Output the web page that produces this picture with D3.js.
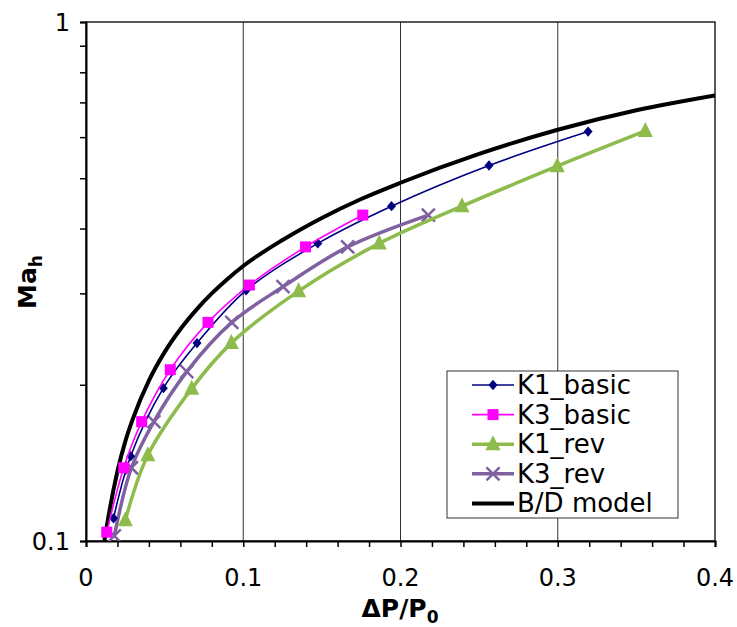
<!DOCTYPE html>
<html><head><meta charset="utf-8">
<script src="https://cdn.jsdelivr.net/npm/d3@7"></script>
<style>body{margin:0;background:#fff}svg{display:block}</style>
</head><body>
<svg id="c" width="737" height="627"></svg>
<script>
// ---- data ----
const k1BasicX = [0.0175, 0.0284, 0.0492, 0.0706, 0.1018, 0.1474, 0.1943, 0.2563, 0.3193];
const k1BasicY = [0.1106, 0.1457, 0.197, 0.2406, 0.304, 0.3745, 0.4417, 0.529, 0.615];
const k3BasicX = [0.0132, 0.0240, 0.0354, 0.0536, 0.0776, 0.1039, 0.1396, 0.176];
const k3BasicY = [0.104, 0.1384, 0.1698, 0.2138, 0.2638, 0.3113, 0.3687, 0.4246];
const k1RevX = [0.0250, 0.0393, 0.0672, 0.0924, 0.1352, 0.1865, 0.2391, 0.2997, 0.3557];
const k1RevY = [0.1096, 0.1463, 0.1966, 0.2406, 0.303, 0.3745, 0.4417, 0.5275, 0.6166];
const k3RevX = [0.0180, 0.0289, 0.0432, 0.0641, 0.0927, 0.1253, 0.1664, 0.2177];
const k3RevY = [0.1023, 0.1384, 0.1698, 0.212, 0.2638, 0.309, 0.3687, 0.4246];
const bdX = [0.0117, 0.015, 0.02, 0.025, 0.03, 0.04, 0.05, 0.06, 0.07, 0.08, 0.09, 0.1, 0.125, 0.15, 0.175, 0.2, 0.25, 0.3, 0.35, 0.4];
const bdY = [0.100, 0.1147, 0.1363, 0.1556, 0.1726, 0.2037, 0.2312, 0.2559, 0.2786, 0.2999, 0.3199, 0.3388, 0.3802, 0.4193, 0.4560, 0.4901, 0.557, 0.620, 0.676, 0.722];
const xTickLabels = [0, 0.1, 0.2, 0.3, 0.4];
const xMinorTicks = d3.range(0, 0.4001, 0.02);
const yTickLabels = [0.1, 1];
const yMinorTicks = [0.1,0.2,0.3,0.4,0.5,0.6,0.7,0.8,0.9,1];
const seriesNames = ["K1_basic", "K3_basic", "K1_rev", "K3_rev", "B/D model"];

// ---- layout ----
const L = 86, R = 715, T = 22, B = 541;
const svg = d3.select("#c");
const x = d3.scaleLinear().domain([0, 0.4]).range([L, R]);
const y = d3.scaleLog().domain([0.1, 1]).range([B, T]);
const font = "'DejaVu Sans', Verdana, sans-serif";

svg.append("defs").append("clipPath").attr("id","clip")
  .append("rect").attr("x",L).attr("y",T).attr("width",R-L).attr("height",B-T);

// gridlines
svg.append("g").selectAll("line").data([0.1,0.2,0.3]).join("line")
  .attr("x1",d=>x(d)).attr("x2",d=>x(d)).attr("y1",T).attr("y2",B)
  .attr("stroke","#333").attr("stroke-width",1);

// frame
svg.append("rect").attr("x",L).attr("y",T).attr("width",R-L).attr("height",B-T)
  .attr("fill","none").attr("stroke","#222").attr("stroke-width",1.5);

// x axis
const xAxis = d3.axisBottom(x).tickValues(xMinorTicks).tickSize(6).tickFormat("");
svg.append("g").attr("transform",`translate(0,${B})`).call(xAxis)
  .call(g=>{g.select(".domain").attr("stroke","#000").attr("stroke-width",2);
            g.selectAll(".tick line").attr("stroke","#000").attr("stroke-width",1.5);});
svg.append("g").selectAll("text").data(xTickLabels).join("text")
  .attr("x",d=>x(d)).attr("y",586).attr("text-anchor","middle")
  .attr("font-family",font).attr("font-size",24).attr("fill","#000")
  .text(d=>d3.format("")(d));

// y axis
const yAxis = d3.axisLeft(y).tickValues(yMinorTicks).tickSize(6).tickFormat("");
svg.append("g").attr("transform",`translate(${L},0)`).call(yAxis)
  .call(g=>{g.select(".domain").attr("stroke","#000").attr("stroke-width",2);
            g.selectAll(".tick line").attr("stroke","#000").attr("stroke-width",1.5);});
svg.append("g").selectAll("text").data(yTickLabels).join("text")
  .attr("x",70).attr("y",d=>y(d)+9).attr("text-anchor","end")
  .attr("font-family",font).attr("font-size",24).attr("fill","#000")
  .text(d=>String(d));

// axis titles
const xt = svg.append("text").attr("x",400).attr("y",617).attr("text-anchor","middle")
  .attr("font-family",font).attr("font-size",25).attr("font-weight","bold");
xt.append("tspan").text("\u0394P/P");
xt.append("tspan").attr("font-size",17).attr("dy",6).text("0");
const yt = svg.append("text").attr("transform","translate(36,282) rotate(-90)")
  .attr("text-anchor","middle").attr("font-family",font).attr("font-size",25).attr("font-weight","bold");
yt.append("tspan").text("Ma");
yt.append("tspan").attr("font-size",17).attr("dy",6).text("h");

// series
const zip = (xs, ys) => xs.map((v,i)=>[v, ys[i]]);
const line = d3.line().x(d=>x(d[0])).y(d=>y(d[1])).curve(d3.curveCatmullRom.alpha(0.5));
const bdLine = d3.line().x(d=>x(d[0])).y(d=>y(d[1])).curve(d3.curveMonotoneX);
const plot = svg.append("g").attr("clip-path","url(#clip)");

const series = [
  {name:seriesNames[0], data:zip(k1BasicX,k1BasicY), color:"#000080", w:1.6, marker:"diamond", size:9},
  {name:seriesNames[1], data:zip(k3BasicX,k3BasicY), color:"#FF00FF", w:1.6, marker:"square", size:11},
  {name:seriesNames[2], data:zip(k1RevX,k1RevY), color:"#8DBB4C", w:3.5, marker:"triangle", size:15},
  {name:seriesNames[3], data:zip(k3RevX,k3RevY), color:"#7F60A0", w:3.5, marker:"x", size:13},
  {name:seriesNames[4], data:zip(bdX,bdY), color:"#000", w:4, marker:null}
];

function drawMarker(g, type, cx, cy, s, color){
  if(type==="diamond"){
    g.append("path").attr("d",`M${cx},${cy-s/2*1.15}L${cx+s/2},${cy}L${cx},${cy+s/2*1.15}L${cx-s/2},${cy}Z`).attr("fill",color);
  } else if(type==="square"){
    g.append("rect").attr("x",cx-s/2).attr("y",cy-s/2).attr("width",s).attr("height",s).attr("fill",color);
  } else if(type==="triangle"){
    g.append("path").attr("d",`M${cx},${cy-s*0.6}L${cx+s/2},${cy+s*0.4}L${cx-s/2},${cy+s*0.4}Z`).attr("fill",color);
  } else if(type==="x"){
    const h=s/2;
    g.append("path").attr("d",`M${cx-h},${cy-h}L${cx+h},${cy+h}M${cx-h},${cy+h}L${cx+h},${cy-h}`)
      .attr("stroke",color).attr("stroke-width",2.5).attr("fill","none");
  }
}

[4,3,2,0,1].forEach(i=>{
  const s = series[i];
  plot.append("path").datum(s.data).attr("d", i===4 ? bdLine : line).attr("fill","none")
    .attr("stroke",s.color).attr("stroke-width",s.w);
  if(s.marker){
    const mg = plot.append("g");
    s.data.forEach(d=>drawMarker(mg, s.marker, x(d[0]), y(d[1]), s.size, s.color));
  }
});

// legend
const lg = svg.append("g");
lg.append("rect").attr("x",447).attr("y",371).attr("width",231).attr("height",147)
  .attr("fill","#fff").attr("stroke","#333").attr("stroke-width",1);
series.forEach((s,i)=>{
  const cy = 385 + i*29.6;
  lg.append("line").attr("x1",472).attr("x2",514).attr("y1",cy).attr("y2",cy)
    .attr("stroke",s.color).attr("stroke-width",s.w);
  if(s.marker) drawMarker(lg, s.marker, 493, cy, s.size, s.color);
  lg.append("text").attr("x",517).attr("y",cy+9).attr("font-family",font)
    .attr("font-size",26).attr("fill","#000").text(s.name);
});
</script>
</body></html>
